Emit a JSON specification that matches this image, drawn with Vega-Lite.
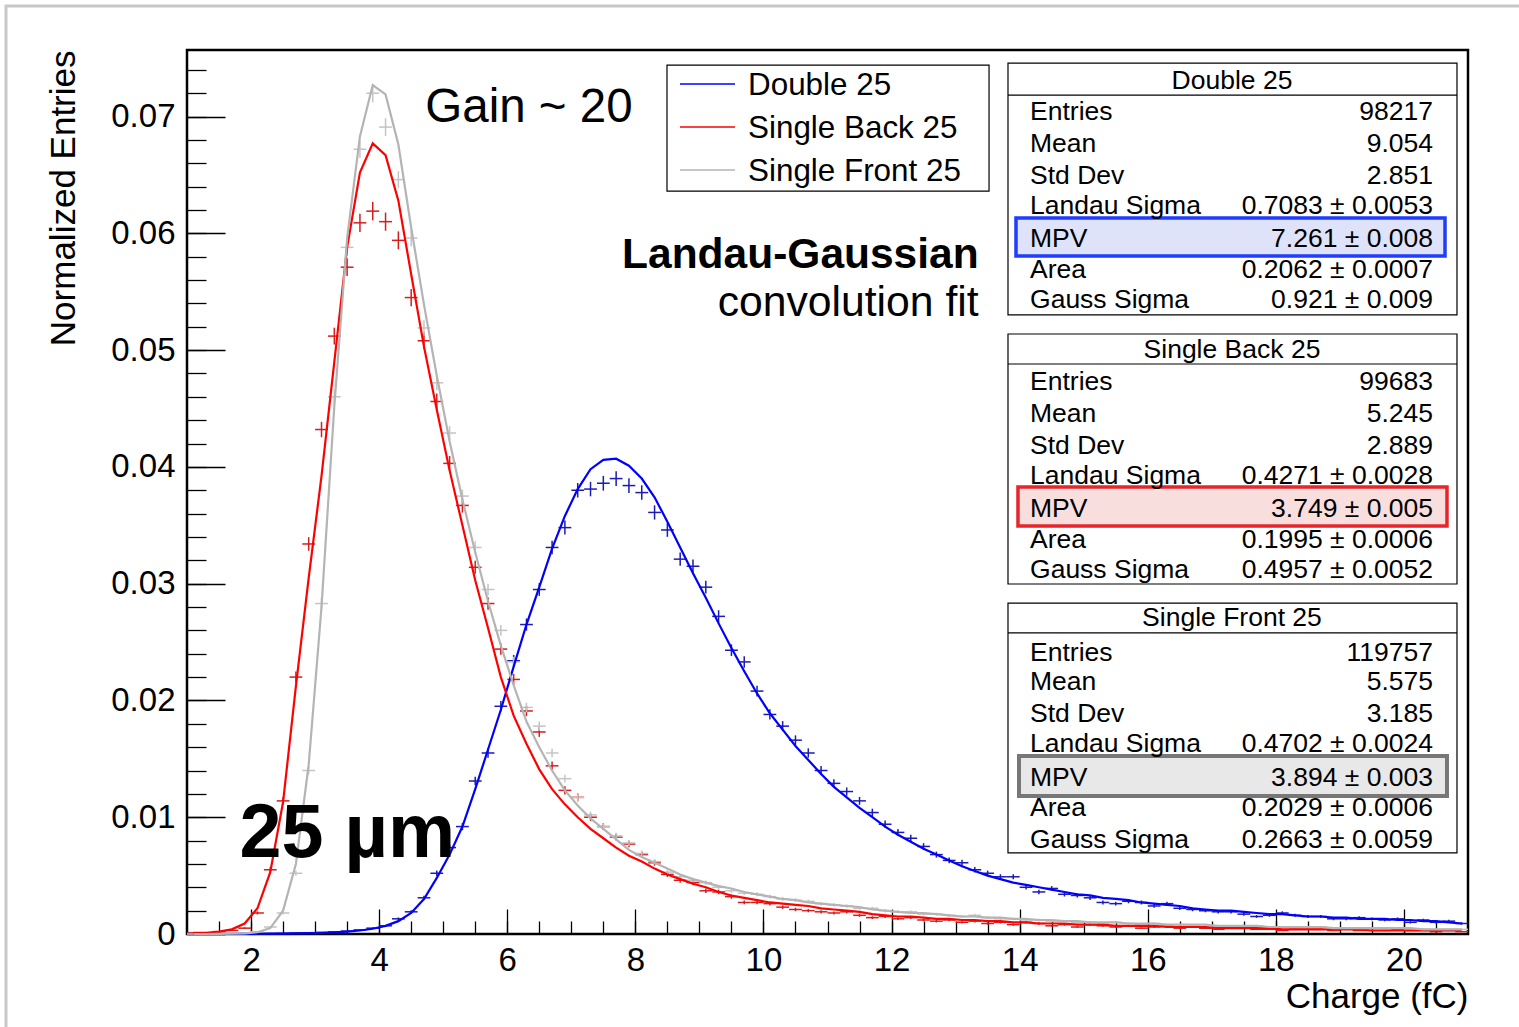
{
"$schema": "https://vega.github.io/schema/vega-lite/v6.json",
"width": 1281, "height": 884,
"autosize": {"type": "none"},
"padding": {"left": 187, "top": 50, "right": 51, "bottom": 93},
"background": "white",
"config": {
  "view": {"stroke": "black", "strokeWidth": 2.5},
  "font": "Liberation Sans",
  "axis": {"grid": false, "domain": false, "ticks": false, "labels": false}
},
"resolve": {"axis": {"x": "independent", "y": "independent"}, "scale": {"color": "independent"}},
"datasets": {
"hist": [
{"series":"Double 25","charge":1.1,"entries":0,"err":0,"fit":0},
{"series":"Double 25","charge":1.3,"entries":0,"err":0,"fit":0},
{"series":"Double 25","charge":1.5,"entries":0,"err":0,"fit":0},
{"series":"Double 25","charge":1.7,"entries":0,"err":0,"fit":0},
{"series":"Double 25","charge":1.9,"entries":0.00001,"err":0.00001,"fit":0.00001},
{"series":"Double 25","charge":2.1,"entries":0.00002,"err":0.00001,"fit":0.00002},
{"series":"Double 25","charge":2.3,"entries":0.00003,"err":0.00002,"fit":0.00003},
{"series":"Double 25","charge":2.5,"entries":0.00005,"err":0.00002,"fit":0.00004},
{"series":"Double 25","charge":2.7,"entries":0.00008,"err":0.00003,"fit":0.00006},
{"series":"Double 25","charge":2.9,"entries":0.0001,"err":0.00003,"fit":0.00008},
{"series":"Double 25","charge":3.1,"entries":0.00013,"err":0.00004,"fit":0.0001},
{"series":"Double 25","charge":3.3,"entries":0.00018,"err":0.00004,"fit":0.00014},
{"series":"Double 25","charge":3.5,"entries":0.00025,"err":0.00005,"fit":0.0002},
{"series":"Double 25","charge":3.7,"entries":0.00035,"err":0.00006,"fit":0.0003},
{"series":"Double 25","charge":3.9,"entries":0.0005,"err":0.00007,"fit":0.00045},
{"series":"Double 25","charge":4.1,"entries":0.0007,"err":0.00008,"fit":0.0007},
{"series":"Double 25","charge":4.3,"entries":0.0013,"err":0.00012,"fit":0.0011},
{"series":"Double 25","charge":4.5,"entries":0.0019,"err":0.00014,"fit":0.0018},
{"series":"Double 25","charge":4.7,"entries":0.0031,"err":0.00018,"fit":0.003},
{"series":"Double 25","charge":4.9,"entries":0.0052,"err":0.00023,"fit":0.0048},
{"series":"Double 25","charge":5.1,"entries":0.0074,"err":0.00027,"fit":0.0068},
{"series":"Double 25","charge":5.3,"entries":0.0092,"err":0.00031,"fit":0.0092},
{"series":"Double 25","charge":5.5,"entries":0.0131,"err":0.00037,"fit":0.0124},
{"series":"Double 25","charge":5.7,"entries":0.0155,"err":0.0004,"fit":0.0158},
{"series":"Double 25","charge":5.9,"entries":0.0195,"err":0.00045,"fit":0.0192},
{"series":"Double 25","charge":6.1,"entries":0.0234,"err":0.00049,"fit":0.0229},
{"series":"Double 25","charge":6.3,"entries":0.0265,"err":0.00052,"fit":0.0265},
{"series":"Double 25","charge":6.5,"entries":0.0295,"err":0.00055,"fit":0.0297},
{"series":"Double 25","charge":6.7,"entries":0.0331,"err":0.00058,"fit":0.033},
{"series":"Double 25","charge":6.9,"entries":0.0348,"err":0.0006,"fit":0.0358},
{"series":"Double 25","charge":7.1,"entries":0.038,"err":0.00062,"fit":0.0381},
{"series":"Double 25","charge":7.3,"entries":0.0381,"err":0.00062,"fit":0.0398},
{"series":"Double 25","charge":7.5,"entries":0.0386,"err":0.00063,"fit":0.0406},
{"series":"Double 25","charge":7.7,"entries":0.039,"err":0.00063,"fit":0.0407},
{"series":"Double 25","charge":7.9,"entries":0.0384,"err":0.00063,"fit":0.0401},
{"series":"Double 25","charge":8.1,"entries":0.0378,"err":0.00062,"fit":0.039},
{"series":"Double 25","charge":8.3,"entries":0.0361,"err":0.00061,"fit":0.0374},
{"series":"Double 25","charge":8.5,"entries":0.0346,"err":0.00059,"fit":0.0353},
{"series":"Double 25","charge":8.7,"entries":0.0321,"err":0.00057,"fit":0.0331},
{"series":"Double 25","charge":8.9,"entries":0.0315,"err":0.00057,"fit":0.0309},
{"series":"Double 25","charge":9.1,"entries":0.0297,"err":0.00055,"fit":0.0288},
{"series":"Double 25","charge":9.3,"entries":0.0272,"err":0.00053,"fit":0.0266},
{"series":"Double 25","charge":9.5,"entries":0.0243,"err":0.0005,"fit":0.0245},
{"series":"Double 25","charge":9.7,"entries":0.0233,"err":0.00049,"fit":0.0225},
{"series":"Double 25","charge":9.9,"entries":0.0208,"err":0.00046,"fit":0.0206},
{"series":"Double 25","charge":10.1,"entries":0.0188,"err":0.00044,"fit":0.0189},
{"series":"Double 25","charge":10.3,"entries":0.0178,"err":0.00043,"fit":0.0175},
{"series":"Double 25","charge":10.5,"entries":0.0166,"err":0.00041,"fit":0.0161},
{"series":"Double 25","charge":10.7,"entries":0.0155,"err":0.0004,"fit":0.0149},
{"series":"Double 25","charge":10.9,"entries":0.014,"err":0.00038,"fit":0.0137},
{"series":"Double 25","charge":11.1,"entries":0.0129,"err":0.00036,"fit":0.0126},
{"series":"Double 25","charge":11.3,"entries":0.0122,"err":0.00035,"fit":0.0117},
{"series":"Double 25","charge":11.5,"entries":0.0114,"err":0.00034,"fit":0.0108},
{"series":"Double 25","charge":11.7,"entries":0.0104,"err":0.00033,"fit":0.01},
{"series":"Double 25","charge":11.9,"entries":0.0094,"err":0.00031,"fit":0.0092},
{"series":"Double 25","charge":12.1,"entries":0.0087,"err":0.0003,"fit":0.0085},
{"series":"Double 25","charge":12.3,"entries":0.0082,"err":0.00029,"fit":0.0079},
{"series":"Double 25","charge":12.5,"entries":0.0075,"err":0.00028,"fit":0.0073},
{"series":"Double 25","charge":12.7,"entries":0.0068,"err":0.00026,"fit":0.0068},
{"series":"Double 25","charge":12.9,"entries":0.0063,"err":0.00025,"fit":0.0063},
{"series":"Double 25","charge":13.1,"entries":0.0061,"err":0.00025,"fit":0.0058},
{"series":"Double 25","charge":13.3,"entries":0.0055,"err":0.00024,"fit":0.0054},
{"series":"Double 25","charge":13.5,"entries":0.0052,"err":0.00023,"fit":0.005},
{"series":"Double 25","charge":13.7,"entries":0.0049,"err":0.00022,"fit":0.0047},
{"series":"Double 25","charge":13.9,"entries":0.0049,"err":0.00022,"fit":0.0044},
{"series":"Double 25","charge":14.1,"entries":0.004,"err":0.0002,"fit":0.0042},
{"series":"Double 25","charge":14.3,"entries":0.0036,"err":0.00019,"fit":0.004},
{"series":"Double 25","charge":14.5,"entries":0.0039,"err":0.0002,"fit":0.0038},
{"series":"Double 25","charge":14.7,"entries":0.0034,"err":0.00019,"fit":0.0036},
{"series":"Double 25","charge":14.9,"entries":0.0033,"err":0.00018,"fit":0.0034},
{"series":"Double 25","charge":15.1,"entries":0.0031,"err":0.00018,"fit":0.0033},
{"series":"Double 25","charge":15.3,"entries":0.0027,"err":0.00017,"fit":0.0031},
{"series":"Double 25","charge":15.5,"entries":0.0026,"err":0.00016,"fit":0.003},
{"series":"Double 25","charge":15.7,"entries":0.0028,"err":0.00017,"fit":0.0029},
{"series":"Double 25","charge":15.9,"entries":0.0027,"err":0.00017,"fit":0.0027},
{"series":"Double 25","charge":16.1,"entries":0.0024,"err":0.00016,"fit":0.0026},
{"series":"Double 25","charge":16.3,"entries":0.0026,"err":0.00016,"fit":0.0025},
{"series":"Double 25","charge":16.5,"entries":0.0022,"err":0.00015,"fit":0.0024},
{"series":"Double 25","charge":16.7,"entries":0.0021,"err":0.00015,"fit":0.0022},
{"series":"Double 25","charge":16.9,"entries":0.002,"err":0.00014,"fit":0.0021},
{"series":"Double 25","charge":17.1,"entries":0.0019,"err":0.00014,"fit":0.002},
{"series":"Double 25","charge":17.3,"entries":0.0019,"err":0.00014,"fit":0.002},
{"series":"Double 25","charge":17.5,"entries":0.0017,"err":0.00013,"fit":0.0019},
{"series":"Double 25","charge":17.7,"entries":0.0015,"err":0.00012,"fit":0.0018},
{"series":"Double 25","charge":17.9,"entries":0.0016,"err":0.00013,"fit":0.0017},
{"series":"Double 25","charge":18.1,"entries":0.0018,"err":0.00014,"fit":0.0017},
{"series":"Double 25","charge":18.3,"entries":0.0016,"err":0.00013,"fit":0.0016},
{"series":"Double 25","charge":18.5,"entries":0.0015,"err":0.00012,"fit":0.0015},
{"series":"Double 25","charge":18.7,"entries":0.0015,"err":0.00012,"fit":0.0015},
{"series":"Double 25","charge":18.9,"entries":0.0013,"err":0.00012,"fit":0.0014},
{"series":"Double 25","charge":19.1,"entries":0.0013,"err":0.00012,"fit":0.0014},
{"series":"Double 25","charge":19.3,"entries":0.0014,"err":0.00012,"fit":0.0013},
{"series":"Double 25","charge":19.5,"entries":0.0013,"err":0.00012,"fit":0.0013},
{"series":"Double 25","charge":19.7,"entries":0.0012,"err":0.00011,"fit":0.0013},
{"series":"Double 25","charge":19.9,"entries":0.0013,"err":0.00012,"fit":0.0012},
{"series":"Double 25","charge":20.1,"entries":0.001,"err":0.0001,"fit":0.0012},
{"series":"Double 25","charge":20.3,"entries":0.0012,"err":0.00011,"fit":0.0011},
{"series":"Double 25","charge":20.5,"entries":0.001,"err":0.0001,"fit":0.0011},
{"series":"Double 25","charge":20.7,"entries":0.0011,"err":0.00011,"fit":0.001},
{"series":"Double 25","charge":20.9,"entries":0.0009,"err":0.0001,"fit":0.0009},
{"series":"Single Back 25","charge":1.1,"entries":0.0001,"err":0.00003,"fit":0.0001},
{"series":"Single Back 25","charge":1.3,"entries":0.0001,"err":0.00003,"fit":0.0001},
{"series":"Single Back 25","charge":1.5,"entries":0.0002,"err":0.00004,"fit":0.0002},
{"series":"Single Back 25","charge":1.7,"entries":0.0003,"err":0.00005,"fit":0.0004},
{"series":"Single Back 25","charge":1.9,"entries":0.0005,"err":0.00007,"fit":0.0009},
{"series":"Single Back 25","charge":2.1,"entries":0.0018,"err":0.00013,"fit":0.0022},
{"series":"Single Back 25","charge":2.3,"entries":0.0055,"err":0.00023,"fit":0.0053},
{"series":"Single Back 25","charge":2.5,"entries":0.0114,"err":0.00034,"fit":0.0113},
{"series":"Single Back 25","charge":2.7,"entries":0.022,"err":0.00047,"fit":0.0212},
{"series":"Single Back 25","charge":2.9,"entries":0.0334,"err":0.00058,"fit":0.0305},
{"series":"Single Back 25","charge":3.1,"entries":0.0432,"err":0.00066,"fit":0.0392},
{"series":"Single Back 25","charge":3.3,"entries":0.0512,"err":0.00072,"fit":0.049},
{"series":"Single Back 25","charge":3.5,"entries":0.0571,"err":0.00076,"fit":0.0588},
{"series":"Single Back 25","charge":3.7,"entries":0.0609,"err":0.00078,"fit":0.0652},
{"series":"Single Back 25","charge":3.9,"entries":0.0619,"err":0.00079,"fit":0.0677},
{"series":"Single Back 25","charge":4.1,"entries":0.061,"err":0.00078,"fit":0.0667},
{"series":"Single Back 25","charge":4.3,"entries":0.0594,"err":0.00077,"fit":0.0628},
{"series":"Single Back 25","charge":4.5,"entries":0.0545,"err":0.00074,"fit":0.0565},
{"series":"Single Back 25","charge":4.7,"entries":0.0508,"err":0.00071,"fit":0.0503},
{"series":"Single Back 25","charge":4.9,"entries":0.0456,"err":0.00068,"fit":0.0449},
{"series":"Single Back 25","charge":5.1,"entries":0.0403,"err":0.00064,"fit":0.0397},
{"series":"Single Back 25","charge":5.3,"entries":0.0367,"err":0.00061,"fit":0.035},
{"series":"Single Back 25","charge":5.5,"entries":0.0314,"err":0.00056,"fit":0.0303},
{"series":"Single Back 25","charge":5.7,"entries":0.0283,"err":0.00053,"fit":0.0262},
{"series":"Single Back 25","charge":5.9,"entries":0.0244,"err":0.00049,"fit":0.022},
{"series":"Single Back 25","charge":6.1,"entries":0.0218,"err":0.00047,"fit":0.0187},
{"series":"Single Back 25","charge":6.3,"entries":0.0191,"err":0.00044,"fit":0.0163},
{"series":"Single Back 25","charge":6.5,"entries":0.0173,"err":0.00042,"fit":0.0141},
{"series":"Single Back 25","charge":6.7,"entries":0.0144,"err":0.00038,"fit":0.0124},
{"series":"Single Back 25","charge":6.9,"entries":0.0123,"err":0.00035,"fit":0.0111},
{"series":"Single Back 25","charge":7.1,"entries":0.0117,"err":0.00034,"fit":0.01},
{"series":"Single Back 25","charge":7.3,"entries":0.01,"err":0.00032,"fit":0.009},
{"series":"Single Back 25","charge":7.5,"entries":0.0092,"err":0.0003,"fit":0.0082},
{"series":"Single Back 25","charge":7.7,"entries":0.0083,"err":0.00029,"fit":0.0074},
{"series":"Single Back 25","charge":7.9,"entries":0.0077,"err":0.00028,"fit":0.0067},
{"series":"Single Back 25","charge":8.1,"entries":0.0068,"err":0.00026,"fit":0.0062},
{"series":"Single Back 25","charge":8.3,"entries":0.0061,"err":0.00025,"fit":0.0056},
{"series":"Single Back 25","charge":8.5,"entries":0.0051,"err":0.00023,"fit":0.0051},
{"series":"Single Back 25","charge":8.7,"entries":0.0046,"err":0.00021,"fit":0.0047},
{"series":"Single Back 25","charge":8.9,"entries":0.0044,"err":0.00021,"fit":0.0043},
{"series":"Single Back 25","charge":9.1,"entries":0.0037,"err":0.00019,"fit":0.004},
{"series":"Single Back 25","charge":9.3,"entries":0.0036,"err":0.00019,"fit":0.0036},
{"series":"Single Back 25","charge":9.5,"entries":0.0032,"err":0.00018,"fit":0.0033},
{"series":"Single Back 25","charge":9.7,"entries":0.0027,"err":0.00016,"fit":0.0031},
{"series":"Single Back 25","charge":9.9,"entries":0.0027,"err":0.00016,"fit":0.0029},
{"series":"Single Back 25","charge":10.1,"entries":0.0026,"err":0.00016,"fit":0.0027},
{"series":"Single Back 25","charge":10.3,"entries":0.0023,"err":0.00015,"fit":0.0026},
{"series":"Single Back 25","charge":10.5,"entries":0.0021,"err":0.00015,"fit":0.0025},
{"series":"Single Back 25","charge":10.7,"entries":0.002,"err":0.00014,"fit":0.0024},
{"series":"Single Back 25","charge":10.9,"entries":0.0019,"err":0.00014,"fit":0.0022},
{"series":"Single Back 25","charge":11.1,"entries":0.0018,"err":0.00013,"fit":0.0021},
{"series":"Single Back 25","charge":11.3,"entries":0.0019,"err":0.00014,"fit":0.002},
{"series":"Single Back 25","charge":11.5,"entries":0.0016,"err":0.00013,"fit":0.0019},
{"series":"Single Back 25","charge":11.7,"entries":0.0014,"err":0.00012,"fit":0.0017},
{"series":"Single Back 25","charge":11.9,"entries":0.0015,"err":0.00012,"fit":0.0016},
{"series":"Single Back 25","charge":12.1,"entries":0.0013,"err":0.00011,"fit":0.0015},
{"series":"Single Back 25","charge":12.3,"entries":0.0014,"err":0.00012,"fit":0.0015},
{"series":"Single Back 25","charge":12.5,"entries":0.0012,"err":0.00011,"fit":0.0014},
{"series":"Single Back 25","charge":12.7,"entries":0.0011,"err":0.00011,"fit":0.0013},
{"series":"Single Back 25","charge":12.9,"entries":0.0012,"err":0.00011,"fit":0.0013},
{"series":"Single Back 25","charge":13.1,"entries":0.001,"err":0.0001,"fit":0.0012},
{"series":"Single Back 25","charge":13.3,"entries":0.0011,"err":0.00011,"fit":0.0012},
{"series":"Single Back 25","charge":13.5,"entries":0.0009,"err":0.0001,"fit":0.0011},
{"series":"Single Back 25","charge":13.7,"entries":0.001,"err":0.0001,"fit":0.0011},
{"series":"Single Back 25","charge":13.9,"entries":0.0008,"err":0.00009,"fit":0.001},
{"series":"Single Back 25","charge":14.1,"entries":0.001,"err":0.0001,"fit":0.001},
{"series":"Single Back 25","charge":14.3,"entries":0.0009,"err":0.0001,"fit":0.0009},
{"series":"Single Back 25","charge":14.5,"entries":0.0007,"err":0.00008,"fit":0.0009},
{"series":"Single Back 25","charge":14.7,"entries":0.0008,"err":0.00009,"fit":0.0009},
{"series":"Single Back 25","charge":14.9,"entries":0.0006,"err":0.00008,"fit":0.0008},
{"series":"Single Back 25","charge":15.1,"entries":0.0008,"err":0.00009,"fit":0.0008},
{"series":"Single Back 25","charge":15.3,"entries":0.0007,"err":0.00008,"fit":0.0008},
{"series":"Single Back 25","charge":15.5,"entries":0.0006,"err":0.00008,"fit":0.0007},
{"series":"Single Back 25","charge":15.7,"entries":0.0007,"err":0.00008,"fit":0.0007},
{"series":"Single Back 25","charge":15.9,"entries":0.0005,"err":0.00007,"fit":0.0007},
{"series":"Single Back 25","charge":16.1,"entries":0.0006,"err":0.00008,"fit":0.0007},
{"series":"Single Back 25","charge":16.3,"entries":0.0007,"err":0.00008,"fit":0.0006},
{"series":"Single Back 25","charge":16.5,"entries":0.0005,"err":0.00007,"fit":0.0006},
{"series":"Single Back 25","charge":16.7,"entries":0.0006,"err":0.00008,"fit":0.0006},
{"series":"Single Back 25","charge":16.9,"entries":0.0005,"err":0.00007,"fit":0.0006},
{"series":"Single Back 25","charge":17.1,"entries":0.0004,"err":0.00006,"fit":0.0005},
{"series":"Single Back 25","charge":17.3,"entries":0.0005,"err":0.00007,"fit":0.0005},
{"series":"Single Back 25","charge":17.5,"entries":0.0005,"err":0.00007,"fit":0.0005},
{"series":"Single Back 25","charge":17.7,"entries":0.0004,"err":0.00006,"fit":0.0005},
{"series":"Single Back 25","charge":17.9,"entries":0.0004,"err":0.00006,"fit":0.0005},
{"series":"Single Back 25","charge":18.1,"entries":0.0003,"err":0.00005,"fit":0.0004},
{"series":"Single Back 25","charge":18.3,"entries":0.0004,"err":0.00006,"fit":0.0004},
{"series":"Single Back 25","charge":18.5,"entries":0.0004,"err":0.00006,"fit":0.0004},
{"series":"Single Back 25","charge":18.7,"entries":0.0004,"err":0.00006,"fit":0.0004},
{"series":"Single Back 25","charge":18.9,"entries":0.0003,"err":0.00005,"fit":0.0004},
{"series":"Single Back 25","charge":19.1,"entries":0.0004,"err":0.00006,"fit":0.0004},
{"series":"Single Back 25","charge":19.3,"entries":0.0003,"err":0.00005,"fit":0.0004},
{"series":"Single Back 25","charge":19.5,"entries":0.0003,"err":0.00005,"fit":0.0003},
{"series":"Single Back 25","charge":19.7,"entries":0.0003,"err":0.00005,"fit":0.0003},
{"series":"Single Back 25","charge":19.9,"entries":0.0004,"err":0.00006,"fit":0.0003},
{"series":"Single Back 25","charge":20.1,"entries":0.0003,"err":0.00005,"fit":0.0003},
{"series":"Single Back 25","charge":20.3,"entries":0.0003,"err":0.00005,"fit":0.0003},
{"series":"Single Back 25","charge":20.5,"entries":0.0002,"err":0.00004,"fit":0.0003},
{"series":"Single Back 25","charge":20.7,"entries":0.0003,"err":0.00005,"fit":0.0003},
{"series":"Single Back 25","charge":20.9,"entries":0.0002,"err":0.00004,"fit":0.0003},
{"series":"Single Front 25","charge":1.1,"entries":0,"err":0,"fit":0},
{"series":"Single Front 25","charge":1.3,"entries":0,"err":0,"fit":0},
{"series":"Single Front 25","charge":1.5,"entries":0.00002,"err":0.00001,"fit":0.00001},
{"series":"Single Front 25","charge":1.7,"entries":0.00004,"err":0.00002,"fit":0.00003},
{"series":"Single Front 25","charge":1.9,"entries":0.00008,"err":0.00003,"fit":0.00006},
{"series":"Single Front 25","charge":2.1,"entries":0.0002,"err":0.00004,"fit":0.00015},
{"series":"Single Front 25","charge":2.3,"entries":0.0006,"err":0.00007,"fit":0.0005},
{"series":"Single Front 25","charge":2.5,"entries":0.0018,"err":0.00012,"fit":0.002},
{"series":"Single Front 25","charge":2.7,"entries":0.0052,"err":0.00021,"fit":0.006},
{"series":"Single Front 25","charge":2.9,"entries":0.014,"err":0.00034,"fit":0.0145},
{"series":"Single Front 25","charge":3.1,"entries":0.0283,"err":0.00049,"fit":0.028},
{"series":"Single Front 25","charge":3.3,"entries":0.046,"err":0.00062,"fit":0.0452},
{"series":"Single Front 25","charge":3.5,"entries":0.0588,"err":0.0007,"fit":0.0596},
{"series":"Single Front 25","charge":3.7,"entries":0.0672,"err":0.00075,"fit":0.0683},
{"series":"Single Front 25","charge":3.9,"entries":0.072,"err":0.00078,"fit":0.0727},
{"series":"Single Front 25","charge":4.1,"entries":0.0691,"err":0.00076,"fit":0.0719},
{"series":"Single Front 25","charge":4.3,"entries":0.0646,"err":0.00073,"fit":0.0676},
{"series":"Single Front 25","charge":4.5,"entries":0.0596,"err":0.0007,"fit":0.0605},
{"series":"Single Front 25","charge":4.7,"entries":0.0519,"err":0.00066,"fit":0.0539},
{"series":"Single Front 25","charge":4.9,"entries":0.0472,"err":0.00063,"fit":0.0478},
{"series":"Single Front 25","charge":5.1,"entries":0.0429,"err":0.0006,"fit":0.0422},
{"series":"Single Front 25","charge":5.3,"entries":0.0375,"err":0.00056,"fit":0.0372},
{"series":"Single Front 25","charge":5.5,"entries":0.0331,"err":0.00053,"fit":0.0327},
{"series":"Single Front 25","charge":5.7,"entries":0.0295,"err":0.0005,"fit":0.0285},
{"series":"Single Front 25","charge":5.9,"entries":0.026,"err":0.00047,"fit":0.0247},
{"series":"Single Front 25","charge":6.1,"entries":0.0233,"err":0.00044,"fit":0.0213},
{"series":"Single Front 25","charge":6.3,"entries":0.0194,"err":0.0004,"fit":0.0182},
{"series":"Single Front 25","charge":6.5,"entries":0.0178,"err":0.00039,"fit":0.016},
{"series":"Single Front 25","charge":6.7,"entries":0.0155,"err":0.00036,"fit":0.014},
{"series":"Single Front 25","charge":6.9,"entries":0.0133,"err":0.00033,"fit":0.0123},
{"series":"Single Front 25","charge":7.1,"entries":0.0117,"err":0.00031,"fit":0.011},
{"series":"Single Front 25","charge":7.3,"entries":0.0102,"err":0.00029,"fit":0.0099},
{"series":"Single Front 25","charge":7.5,"entries":0.0092,"err":0.00028,"fit":0.009},
{"series":"Single Front 25","charge":7.7,"entries":0.0084,"err":0.00026,"fit":0.0081},
{"series":"Single Front 25","charge":7.9,"entries":0.0078,"err":0.00026,"fit":0.0072},
{"series":"Single Front 25","charge":8.1,"entries":0.0069,"err":0.00024,"fit":0.0066},
{"series":"Single Front 25","charge":8.3,"entries":0.0062,"err":0.00023,"fit":0.0061},
{"series":"Single Front 25","charge":8.5,"entries":0.0053,"err":0.00021,"fit":0.0056},
{"series":"Single Front 25","charge":8.7,"entries":0.0049,"err":0.0002,"fit":0.0051},
{"series":"Single Front 25","charge":8.9,"entries":0.0046,"err":0.0002,"fit":0.0047},
{"series":"Single Front 25","charge":9.1,"entries":0.0044,"err":0.00019,"fit":0.0044},
{"series":"Single Front 25","charge":9.3,"entries":0.004,"err":0.00018,"fit":0.0041},
{"series":"Single Front 25","charge":9.5,"entries":0.0037,"err":0.00018,"fit":0.0039},
{"series":"Single Front 25","charge":9.7,"entries":0.0035,"err":0.00017,"fit":0.0036},
{"series":"Single Front 25","charge":9.9,"entries":0.0034,"err":0.00017,"fit":0.0034},
{"series":"Single Front 25","charge":10.1,"entries":0.0032,"err":0.00016,"fit":0.0032},
{"series":"Single Front 25","charge":10.3,"entries":0.003,"err":0.00016,"fit":0.003},
{"series":"Single Front 25","charge":10.5,"entries":0.0029,"err":0.00016,"fit":0.0029},
{"series":"Single Front 25","charge":10.7,"entries":0.0028,"err":0.00015,"fit":0.0027},
{"series":"Single Front 25","charge":10.9,"entries":0.0026,"err":0.00015,"fit":0.0026},
{"series":"Single Front 25","charge":11.1,"entries":0.0025,"err":0.00014,"fit":0.0025},
{"series":"Single Front 25","charge":11.3,"entries":0.0024,"err":0.00014,"fit":0.0024},
{"series":"Single Front 25","charge":11.5,"entries":0.0022,"err":0.00014,"fit":0.0023},
{"series":"Single Front 25","charge":11.7,"entries":0.0022,"err":0.00014,"fit":0.0021},
{"series":"Single Front 25","charge":11.9,"entries":0.002,"err":0.00013,"fit":0.002},
{"series":"Single Front 25","charge":12.1,"entries":0.0019,"err":0.00013,"fit":0.0019},
{"series":"Single Front 25","charge":12.3,"entries":0.0019,"err":0.00013,"fit":0.0018},
{"series":"Single Front 25","charge":12.5,"entries":0.0017,"err":0.00012,"fit":0.0018},
{"series":"Single Front 25","charge":12.7,"entries":0.0017,"err":0.00012,"fit":0.0017},
{"series":"Single Front 25","charge":12.9,"entries":0.0016,"err":0.00012,"fit":0.0016},
{"series":"Single Front 25","charge":13.1,"entries":0.0015,"err":0.00011,"fit":0.0015},
{"series":"Single Front 25","charge":13.3,"entries":0.0016,"err":0.00012,"fit":0.0015},
{"series":"Single Front 25","charge":13.5,"entries":0.0014,"err":0.00011,"fit":0.0014},
{"series":"Single Front 25","charge":13.7,"entries":0.0013,"err":0.0001,"fit":0.0014},
{"series":"Single Front 25","charge":13.9,"entries":0.0013,"err":0.0001,"fit":0.0013},
{"series":"Single Front 25","charge":14.1,"entries":0.0012,"err":0.0001,"fit":0.0013},
{"series":"Single Front 25","charge":14.3,"entries":0.0012,"err":0.0001,"fit":0.0012},
{"series":"Single Front 25","charge":14.5,"entries":0.0011,"err":0.0001,"fit":0.0012},
{"series":"Single Front 25","charge":14.7,"entries":0.0011,"err":0.0001,"fit":0.0011},
{"series":"Single Front 25","charge":14.9,"entries":0.001,"err":0.00009,"fit":0.0011},
{"series":"Single Front 25","charge":15.1,"entries":0.001,"err":0.00009,"fit":0.001},
{"series":"Single Front 25","charge":15.3,"entries":0.0009,"err":0.00009,"fit":0.001},
{"series":"Single Front 25","charge":15.5,"entries":0.001,"err":0.00009,"fit":0.001},
{"series":"Single Front 25","charge":15.7,"entries":0.0009,"err":0.00009,"fit":0.0009},
{"series":"Single Front 25","charge":15.9,"entries":0.0008,"err":0.00008,"fit":0.0009},
{"series":"Single Front 25","charge":16.1,"entries":0.0009,"err":0.00009,"fit":0.0009},
{"series":"Single Front 25","charge":16.3,"entries":0.0008,"err":0.00008,"fit":0.0008},
{"series":"Single Front 25","charge":16.5,"entries":0.0008,"err":0.00008,"fit":0.0008},
{"series":"Single Front 25","charge":16.7,"entries":0.0007,"err":0.00008,"fit":0.0008},
{"series":"Single Front 25","charge":16.9,"entries":0.0008,"err":0.00008,"fit":0.0008},
{"series":"Single Front 25","charge":17.1,"entries":0.0007,"err":0.00008,"fit":0.0007},
{"series":"Single Front 25","charge":17.3,"entries":0.0007,"err":0.00008,"fit":0.0007},
{"series":"Single Front 25","charge":17.5,"entries":0.0006,"err":0.00007,"fit":0.0007},
{"series":"Single Front 25","charge":17.7,"entries":0.0007,"err":0.00008,"fit":0.0007},
{"series":"Single Front 25","charge":17.9,"entries":0.0006,"err":0.00007,"fit":0.0006},
{"series":"Single Front 25","charge":18.1,"entries":0.0006,"err":0.00007,"fit":0.0006},
{"series":"Single Front 25","charge":18.3,"entries":0.0006,"err":0.00007,"fit":0.0006},
{"series":"Single Front 25","charge":18.5,"entries":0.0005,"err":0.00006,"fit":0.0006},
{"series":"Single Front 25","charge":18.7,"entries":0.0006,"err":0.00007,"fit":0.0006},
{"series":"Single Front 25","charge":18.9,"entries":0.0005,"err":0.00006,"fit":0.0005},
{"series":"Single Front 25","charge":19.1,"entries":0.0005,"err":0.00006,"fit":0.0005},
{"series":"Single Front 25","charge":19.3,"entries":0.0005,"err":0.00006,"fit":0.0005},
{"series":"Single Front 25","charge":19.5,"entries":0.0005,"err":0.00006,"fit":0.0005},
{"series":"Single Front 25","charge":19.7,"entries":0.0004,"err":0.00006,"fit":0.0005},
{"series":"Single Front 25","charge":19.9,"entries":0.0005,"err":0.00006,"fit":0.0005},
{"series":"Single Front 25","charge":20.1,"entries":0.0004,"err":0.00006,"fit":0.0005},
{"series":"Single Front 25","charge":20.3,"entries":0.0004,"err":0.00006,"fit":0.0004},
{"series":"Single Front 25","charge":20.5,"entries":0.0004,"err":0.00006,"fit":0.0004},
{"series":"Single Front 25","charge":20.7,"entries":0.0004,"err":0.00006,"fit":0.0004},
{"series":"Single Front 25","charge":20.9,"entries":0.0004,"err":0.00006,"fit":0.0004}
],
"legendRows": [
{"series":"Double 25","x1":8.697,"x2":9.556,"lx":9.759,"y":0.07279,"ly":0.07263},
{"series":"Single Back 25","x1":8.697,"x2":9.556,"lx":9.759,"y":0.0691,"ly":0.06895},
{"series":"Single Front 25","x1":8.697,"x2":9.556,"lx":9.759,"y":0.06542,"ly":0.06527}
],
"statBoxes": [
{"x1":13.818,"x2":20.828,"y1":0.07458,"y2":0.05301,"sep":0.07184},
{"x1":13.818,"x2":20.828,"y1":0.05138,"y2":0.02997,"sep":0.04881},
{"x1":13.818,"x2":20.828,"y1":0.02834,"y2":0.00694,"sep":0.02578}
],
"statTitles": [
{"t":"Double 25","x":17.315,"y":0.07308},
{"t":"Single Back 25","x":17.315,"y":0.05005},
{"t":"Single Front 25","x":17.315,"y":0.02702}
],
"statLabels": [
{"t":"Entries","x":14.162,"y":0.07035},
{"t":"Mean","x":14.162,"y":0.06769},
{"t":"Std Dev","x":14.162,"y":0.06495},
{"t":"Landau Sigma","x":14.162,"y":0.06238},
{"t":"MPV","x":14.162,"y":0.05955},
{"t":"Area","x":14.162,"y":0.0569},
{"t":"Gauss Sigma","x":14.162,"y":0.05433},
{"t":"Entries","x":14.162,"y":0.04723},
{"t":"Mean","x":14.162,"y":0.04457},
{"t":"Std Dev","x":14.162,"y":0.04183},
{"t":"Landau Sigma","x":14.162,"y":0.03926},
{"t":"MPV","x":14.162,"y":0.03643},
{"t":"Area","x":14.162,"y":0.03378},
{"t":"Gauss Sigma","x":14.162,"y":0.03121},
{"t":"Entries","x":14.162,"y":0.0241},
{"t":"Mean","x":14.162,"y":0.02154},
{"t":"Std Dev","x":14.162,"y":0.0188},
{"t":"Landau Sigma","x":14.162,"y":0.01623},
{"t":"MPV","x":14.162,"y":0.0134},
{"t":"Area","x":14.162,"y":0.01075},
{"t":"Gauss Sigma","x":14.162,"y":0.00809}
],
"statValues": [
{"t":"98217","x":20.454,"y":0.07035},
{"t":"9.054","x":20.454,"y":0.06769},
{"t":"2.851","x":20.454,"y":0.06495},
{"t":"0.7083 ± 0.0053","x":20.454,"y":0.06238},
{"t":"7.261 ± 0.008","x":20.454,"y":0.05955},
{"t":"0.2062 ± 0.0007","x":20.454,"y":0.0569},
{"t":"0.921 ± 0.009","x":20.454,"y":0.05433},
{"t":"99683","x":20.454,"y":0.04723},
{"t":"5.245","x":20.454,"y":0.04457},
{"t":"2.889","x":20.454,"y":0.04183},
{"t":"0.4271 ± 0.0028","x":20.454,"y":0.03926},
{"t":"3.749 ± 0.005","x":20.454,"y":0.03643},
{"t":"0.1995 ± 0.0006","x":20.454,"y":0.03378},
{"t":"0.4957 ± 0.0052","x":20.454,"y":0.03121},
{"t":"119757","x":20.454,"y":0.0241},
{"t":"5.575","x":20.454,"y":0.02154},
{"t":"3.185","x":20.454,"y":0.0188},
{"t":"0.4702 ± 0.0024","x":20.454,"y":0.01623},
{"t":"3.894 ± 0.003","x":20.454,"y":0.0134},
{"t":"0.2029 ± 0.0006","x":20.454,"y":0.01075},
{"t":"0.2663 ± 0.0059","x":20.454,"y":0.00809}
]
},
"layer": [
{
 "data": {"values": [{"a": -1.826, "b": 40, "c": -0.05, "d": 0.07947}]},
 "mark": {"type": "rect", "fill": "white", "fillOpacity": 0, "stroke": "#c8c8c8", "strokeWidth": 3, "clip": false},
 "encoding": {
  "x": {"field": "a", "type": "quantitative", "scale": {"domain": [1, 21], "nice": false, "zero": false}, "axis": null},
  "x2": {"field": "b"},
  "y": {"field": "c", "type": "quantitative", "scale": {"domain": [0, 0.0757], "nice": false, "zero": false}, "axis": null},
  "y2": {"field": "d"}
 }
},
{
 "data": {"name": "hist"},
 "mark": {"type": "tick", "orient": "horizontal", "size": 12.8, "thickness": 1.5, "opacity": 1},
 "encoding": {
  "x": {"field": "charge", "type": "quantitative", "scale": {"domain": [1, 21], "nice": false, "zero": false},
        "axis": {"orient": "bottom", "values": [2,4,6,8,10,12,14,16,18,20], "ticks": true, "tickSize": -25, "tickWidth": 1.3, "tickColor": "black", "labels": false, "domain": false, "grid": false, "title": null}},
  "y": {"field": "entries", "type": "quantitative", "scale": {"domain": [0, 0.0757], "nice": false, "zero": false},
        "axis": {"orient": "left", "values": [0,0.01,0.02,0.03,0.04,0.05,0.06,0.07], "ticks": true, "tickSize": -38, "tickWidth": 1.3, "tickColor": "black", "labels": false, "domain": false, "grid": false, "title": null}},
  "color": {"field": "series", "type": "nominal", "scale": {"domain": ["Double 25","Single Back 25","Single Front 25"], "range": ["#1c1cb4","#d41e1e","#c4c4c4"]}, "legend": null}
 }
},
{
 "data": {"name": "hist"},
 "mark": {"type": "errorbar", "ticks": false, "thickness": 1.5},
 "encoding": {
  "x": {"field": "charge", "type": "quantitative", "scale": {"domain": [1, 21], "nice": false, "zero": false}, "axis": null},
  "y": {"field": "entries", "type": "quantitative", "scale": {"domain": [0, 0.0757], "nice": false, "zero": false}, "axis": null},
  "yError": {"field": "err"},
  "color": {"field": "series", "type": "nominal", "scale": {"domain": ["Double 25","Single Back 25","Single Front 25"], "range": ["#1c1cb4","#d41e1e","#c4c4c4"]}, "legend": null}
 }
},
{
 "data": {"name": "hist"},
 "mark": {"type": "line", "strokeWidth": 2.2},
 "encoding": {
  "x": {"field": "charge", "type": "quantitative", "scale": {"domain": [1, 21], "nice": false, "zero": false},
        "axis": {"orient": "bottom", "values": [2,4,6,8,10,12,14,16,18,20], "format": "d", "labels": true, "ticks": false, "domain": false, "grid": false, "labelFont": "Liberation Sans", "labelFontSize": 33, "labelColor": "black", "labelPadding": 10, "labelFlush": false, "labelOverlap": false, "title": "Charge (fC)", "titleFont": "Liberation Sans", "titleFontSize": 35, "titleFontWeight": "normal", "titleColor": "black", "titleAnchor": "end", "titlePadding": 2}},
  "y": {"field": "fit", "type": "quantitative", "scale": {"domain": [0, 0.0757], "nice": false, "zero": false},
        "axis": {"orient": "left", "values": [0,0.01,0.02,0.03,0.04,0.05,0.06,0.07], "labelExpr": "datum.value == 0 ? '0' : format(datum.value, '.2f')", "labels": true, "ticks": false, "domain": false, "grid": false, "labelFont": "Liberation Sans", "labelFontSize": 33, "labelColor": "black", "labelPadding": 12, "labelFlush": false, "labelOverlap": false, "title": "Normalized Entries", "titleFont": "Liberation Sans", "titleFontSize": 35, "titleFontWeight": "normal", "titleColor": "black", "titleAnchor": "end", "titlePadding": 29}},
  "color": {"field": "series", "type": "nominal", "scale": {"domain": ["Double 25","Single Back 25","Single Front 25"], "range": ["#0000ff","#ff0000","#b4b4b4"]}, "legend": null}
 }
},
{
 "data": {"values": [{"x1": 8.494, "x2": 13.522, "y1": 0.07441, "y2": 0.06362}]},
 "mark": {"type": "rect", "fill": "white", "stroke": "black", "strokeWidth": 1.2},
 "encoding": {
  "x": {"field": "x1", "type": "quantitative", "scale": {"domain": [1, 21], "nice": false, "zero": false},
        "axis": {"orient": "bottom", "values": [1.5,2,2.5,3,3.5,4,4.5,5,5.5,6,6.5,7,7.5,8,8.5,9,9.5,10,10.5,11,11.5,12,12.5,13,13.5,14,14.5,15,15.5,16,16.5,17,17.5,18,18.5,19,19.5,20,20.5], "ticks": true, "tickSize": -13, "tickWidth": 1.3, "tickColor": "black", "labels": false, "domain": false, "grid": false, "title": null}},
  "x2": {"field": "x2"},
  "y": {"field": "y1", "type": "quantitative", "scale": {"domain": [0, 0.0757], "nice": false, "zero": false},
        "axis": {"orient": "left", "values": [0.002,0.004,0.006,0.008,0.01,0.012,0.014,0.016,0.018,0.02,0.022,0.024,0.026,0.028,0.03,0.032,0.034,0.036,0.038,0.04,0.042,0.044,0.046,0.048,0.05,0.052,0.054,0.056,0.058,0.06,0.062,0.064,0.066,0.068,0.07,0.072,0.074], "ticks": true, "tickSize": -19, "tickWidth": 1.3, "tickColor": "black", "labels": false, "domain": false, "grid": false, "title": null}},
  "y2": {"field": "y2"}
 }
},
{
 "data": {"name": "legendRows"},
 "mark": {"type": "rule", "strokeWidth": 1.5},
 "encoding": {
  "x": {"field": "x1", "type": "quantitative", "scale": {"domain": [1, 21], "nice": false, "zero": false}, "axis": null},
  "x2": {"field": "x2"},
  "y": {"field": "y", "type": "quantitative", "scale": {"domain": [0, 0.0757], "nice": false, "zero": false}, "axis": null},
  "color": {"field": "series", "type": "nominal", "scale": {"domain": ["Double 25","Single Back 25","Single Front 25"], "range": ["#0000ff","#ff0000","#b4b4b4"]}, "legend": null}
 }
},
{
 "data": {"name": "legendRows"},
 "mark": {"type": "text", "align": "left", "baseline": "middle", "font": "Liberation Sans", "fontSize": 31.4, "color": "black"},
 "encoding": {
  "x": {"field": "lx", "type": "quantitative", "scale": {"domain": [1, 21], "nice": false, "zero": false}, "axis": null},
  "y": {"field": "ly", "type": "quantitative", "scale": {"domain": [0, 0.0757], "nice": false, "zero": false}, "axis": null},
  "text": {"field": "series"}
 }
},
{
 "data": {"name": "statBoxes"},
 "mark": {"type": "rect", "fill": "white", "stroke": "black", "strokeWidth": 1.2},
 "encoding": {
  "x": {"field": "x1", "type": "quantitative", "scale": {"domain": [1, 21], "nice": false, "zero": false}, "axis": null},
  "x2": {"field": "x2"},
  "y": {"field": "y1", "type": "quantitative", "scale": {"domain": [0, 0.0757], "nice": false, "zero": false}, "axis": null},
  "y2": {"field": "y2"}
 }
},
{
 "data": {"name": "statBoxes"},
 "mark": {"type": "rule", "stroke": "black", "strokeWidth": 1.2},
 "encoding": {
  "x": {"field": "x1", "type": "quantitative", "scale": {"domain": [1, 21], "nice": false, "zero": false}, "axis": null},
  "x2": {"field": "x2"},
  "y": {"field": "sep", "type": "quantitative", "scale": {"domain": [0, 0.0757], "nice": false, "zero": false}, "axis": null}
 }
},
{
 "data": {"values": [{"x1": 13.943, "x2": 20.641, "y1": 0.06131, "y2": 0.05806}]},
 "mark": {"type": "rect", "fill": "#dfe3fa", "stroke": "#1f3cff", "strokeWidth": 3.5},
 "encoding": {
  "x": {"field": "x1", "type": "quantitative", "scale": {"domain": [1, 21], "nice": false, "zero": false}, "axis": null},
  "x2": {"field": "x2"},
  "y": {"field": "y1", "type": "quantitative", "scale": {"domain": [0, 0.0757], "nice": false, "zero": false}, "axis": null},
  "y2": {"field": "y2"}
 }
},
{
 "data": {"values": [{"x1": 13.974, "x2": 20.672, "y1": 0.03828, "y2": 0.03494}]},
 "mark": {"type": "rect", "fill": "#f9dede", "stroke": "#e6262b", "strokeWidth": 3.5},
 "encoding": {
  "x": {"field": "x1", "type": "quantitative", "scale": {"domain": [1, 21], "nice": false, "zero": false}, "axis": null},
  "x2": {"field": "x2"},
  "y": {"field": "y1", "type": "quantitative", "scale": {"domain": [0, 0.0757], "nice": false, "zero": false}, "axis": null},
  "y2": {"field": "y2"}
 }
},
{
 "data": {"values": [{"x1": 13.99, "x2": 20.672, "y1": 0.01524, "y2": 0.01182}]},
 "mark": {"type": "rect", "fill": "#e8e8e8", "stroke": "#777777", "strokeWidth": 4},
 "encoding": {
  "x": {"field": "x1", "type": "quantitative", "scale": {"domain": [1, 21], "nice": false, "zero": false}, "axis": null},
  "x2": {"field": "x2"},
  "y": {"field": "y1", "type": "quantitative", "scale": {"domain": [0, 0.0757], "nice": false, "zero": false}, "axis": null},
  "y2": {"field": "y2"}
 }
},
{
 "data": {"name": "statTitles"},
 "mark": {"type": "text", "align": "center", "baseline": "middle", "font": "Liberation Sans", "fontSize": 26.5, "color": "black"},
 "encoding": {
  "x": {"field": "x", "type": "quantitative", "scale": {"domain": [1, 21], "nice": false, "zero": false}, "axis": null},
  "y": {"field": "y", "type": "quantitative", "scale": {"domain": [0, 0.0757], "nice": false, "zero": false}, "axis": null},
  "text": {"field": "t"}
 }
},
{
 "data": {"name": "statLabels"},
 "mark": {"type": "text", "align": "left", "baseline": "middle", "font": "Liberation Sans", "fontSize": 26.5, "color": "black"},
 "encoding": {
  "x": {"field": "x", "type": "quantitative", "scale": {"domain": [1, 21], "nice": false, "zero": false}, "axis": null},
  "y": {"field": "y", "type": "quantitative", "scale": {"domain": [0, 0.0757], "nice": false, "zero": false}, "axis": null},
  "text": {"field": "t"}
 }
},
{
 "data": {"name": "statValues"},
 "mark": {"type": "text", "align": "right", "baseline": "middle", "font": "Liberation Sans", "fontSize": 26.5, "color": "black"},
 "encoding": {
  "x": {"field": "x", "type": "quantitative", "scale": {"domain": [1, 21], "nice": false, "zero": false}, "axis": null},
  "y": {"field": "y", "type": "quantitative", "scale": {"domain": [0, 0.0757], "nice": false, "zero": false}, "axis": null},
  "text": {"field": "t"}
 }
},
{
 "data": {"values": [{"t": "Gain ~ 20", "x": 4.72, "y": 0.07076}]},
 "mark": {"type": "text", "align": "left", "baseline": "middle", "font": "Liberation Sans", "fontSize": 47.5, "color": "black"},
 "encoding": {
  "x": {"field": "x", "type": "quantitative", "scale": {"domain": [1, 21], "nice": false, "zero": false}, "axis": null},
  "y": {"field": "y", "type": "quantitative", "scale": {"domain": [0, 0.0757], "nice": false, "zero": false}, "axis": null},
  "text": {"field": "t"}
 }
},
{
 "data": {"values": [{"t": "Landau-Gaussian", "x": 13.36, "y": 0.05814}]},
 "mark": {"type": "text", "align": "right", "baseline": "middle", "font": "Liberation Sans", "fontSize": 42.5, "fontWeight": "bold", "color": "black"},
 "encoding": {
  "x": {"field": "x", "type": "quantitative", "scale": {"domain": [1, 21], "nice": false, "zero": false}, "axis": null},
  "y": {"field": "y", "type": "quantitative", "scale": {"domain": [0, 0.0757], "nice": false, "zero": false}, "axis": null},
  "text": {"field": "t"}
 }
},
{
 "data": {"values": [{"t": "convolution fit", "x": 13.36, "y": 0.05404}]},
 "mark": {"type": "text", "align": "right", "baseline": "middle", "font": "Liberation Sans", "fontSize": 42.7, "color": "black"},
 "encoding": {
  "x": {"field": "x", "type": "quantitative", "scale": {"domain": [1, 21], "nice": false, "zero": false}, "axis": null},
  "y": {"field": "y", "type": "quantitative", "scale": {"domain": [0, 0.0757], "nice": false, "zero": false}, "axis": null},
  "text": {"field": "t"}
 }
},
{
 "data": {"values": [{"t": "25 µm", "x": 1.82, "y": 0.00854}]},
 "mark": {"type": "text", "align": "left", "baseline": "middle", "font": "Liberation Sans", "fontSize": 75.5, "fontWeight": "bold", "color": "black"},
 "encoding": {
  "x": {"field": "x", "type": "quantitative", "scale": {"domain": [1, 21], "nice": false, "zero": false}, "axis": null},
  "y": {"field": "y", "type": "quantitative", "scale": {"domain": [0, 0.0757], "nice": false, "zero": false}, "axis": null},
  "text": {"field": "t"}
 }
}
]
}
